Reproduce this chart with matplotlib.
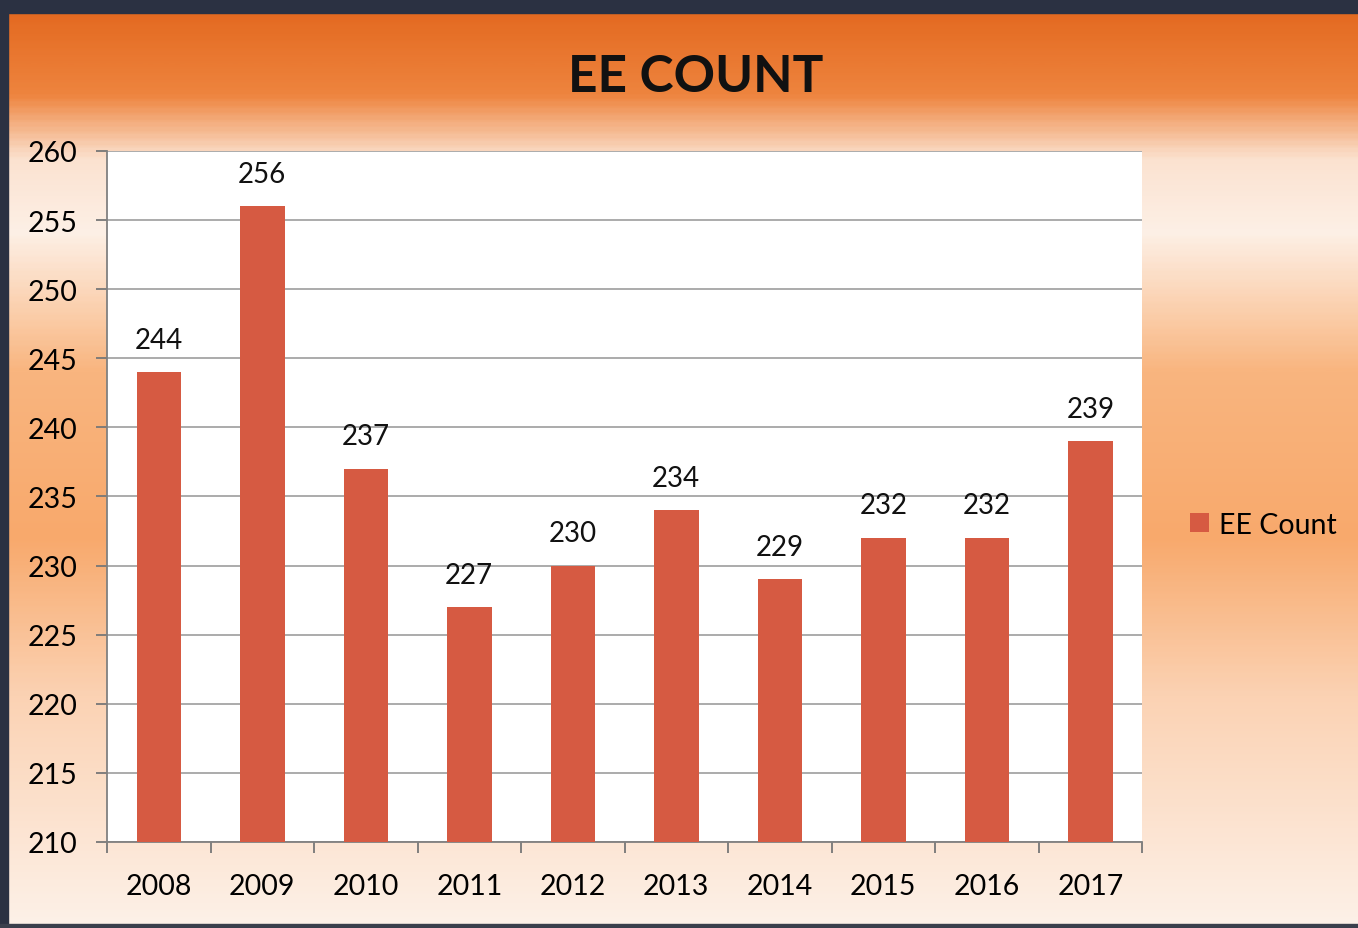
import numpy as np
import matplotlib
matplotlib.use('Agg')
import matplotlib.pyplot as plt
from matplotlib.colors import LinearSegmentedColormap

years = ['2008', '2009', '2010', '2011', '2012', '2013', '2014', '2015', '2016', '2017']
ee_count = [244, 256, 237, 227, 230, 234, 229, 232, 232, 239]
y_ticks = [210, 215, 220, 225, 230, 235, 240, 245, 250, 255, 260]

plt.rcParams['font.family'] = ['Lato', 'DejaVu Sans']

fig = plt.figure(figsize=(13.58, 9.29), dpi=100)

# orange slide background
bg = fig.add_axes([0, 0, 1, 1], zorder=-10)
stops = [(0.0, '#e2661d'), (0.10, '#ee843e'), (0.17, '#fbe2d0'), (0.25, '#fdf0e6'),
         (0.40, '#f9b57f'), (0.58, '#f8a96c'), (0.75, '#fbd2b3'), (1.0, '#fdf1e8')]
cmap = LinearSegmentedColormap.from_list('slide', stops)
grad = np.linspace(0, 1, 400).reshape(-1, 1)
bg.imshow(grad, aspect='auto', cmap=cmap, extent=[0, 1, 0, 1], origin='upper')
bg.add_patch(plt.Rectangle((0, 0.985), 1, 0.015, color='#2b3142'))
bg.add_patch(plt.Rectangle((0, 0), 0.006, 1, color='#2b3142'))
bg.add_patch(plt.Rectangle((0, 0), 1, 0.004, color='#3a3f4c'))
bg.set_xlim(0, 1)
bg.set_ylim(0, 1)
bg.axis('off')

ax = fig.add_axes([0.0788, 0.0926, 0.7622, 0.7438])
ax.set_facecolor('white')
x = np.arange(len(years))
bars = ax.bar(x, ee_count, width=0.43, color='#d65a42', label='EE Count', zorder=3)
ax.bar_label(bars, labels=[str(v) for v in ee_count], padding=14, fontsize=20, color='#111111')

ax.set_ylim(210, 260)
ax.set_xlim(-0.5, len(years) - 0.5)
ax.set_yticks(y_ticks)
ax.set_yticklabels([str(t) for t in y_ticks], fontsize=20.5)
ax.set_xticks(x)
ax.set_xticklabels(years, fontsize=20.5)
ax.set_xticks(np.arange(-0.5, len(years), 1), minor=True)
ax.tick_params(axis='x', which='major', length=0, pad=22)
ax.tick_params(axis='x', which='minor', length=8, direction='out', color='#777777', width=1.3)
ax.tick_params(axis='y', length=8, direction='out', color='#777777', width=1.3, pad=13)

ax.grid(axis='y', color='#a5a5a5', linewidth=1.3, zorder=0)
for s in ['top', 'right']:
    ax.spines[s].set_visible(False)
for s in ['left', 'bottom']:
    ax.spines[s].set_color('#808080')
    ax.spines[s].set_linewidth(1.3)

fig.text(0.512, 0.917, 'EE COUNT', ha='center', va='center', fontsize=37,
         fontweight='bold', color='#111111')

leg = ax.legend(loc='center left', bbox_to_anchor=(1.022, 0.459), frameon=False,
                fontsize=20.5, handlelength=0.65, handleheight=0.65, handletextpad=0.35)

fig.savefig('out.png', dpi=100)
